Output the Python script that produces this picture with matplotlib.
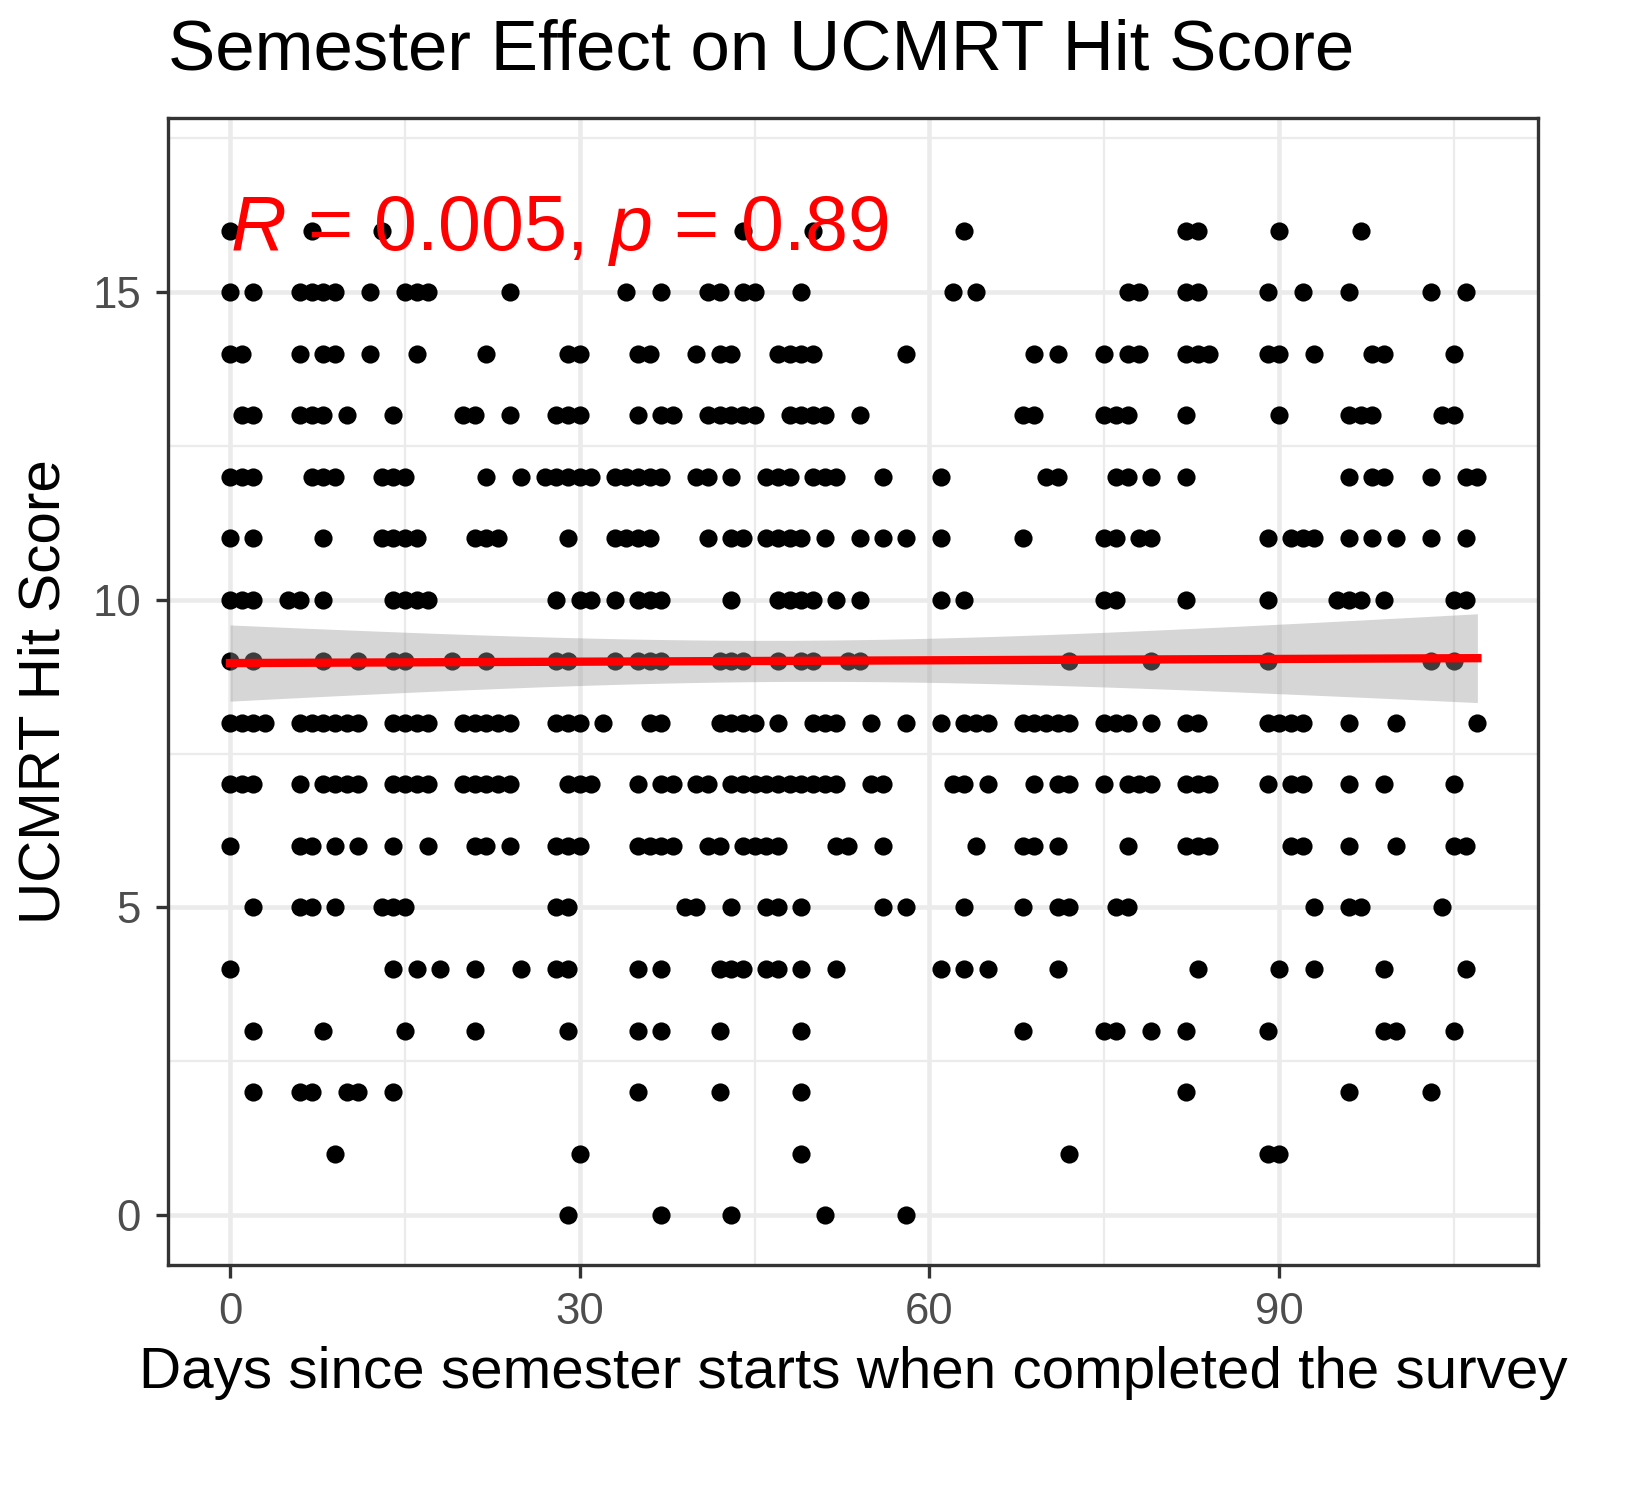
import numpy as np
import matplotlib
matplotlib.use("Agg")
import matplotlib.pyplot as plt

plt.rcParams['font.family'] = ['Liberation Sans', 'DejaVu Sans']
plt.rcParams['mathtext.fontset'] = 'custom'
plt.rcParams['mathtext.it'] = 'Liberation Sans:italic'
plt.rcParams['mathtext.rm'] = 'Liberation Sans'

d16 = [0, 7, 13, 44, 50, 63, 82, 83, 90, 97]
d15 = [0,2,6,7,8,9,12,15,16,17,24,34,37,41,42,44,45,49,62,64,77,78,82,83,89,92,96,103,106]
d14 = [0,1,6,8,9,12,16,22,29,30,35,36,40,42,43,47,48,49,50,58,69,71,75,77,78,82,83,84,89,90,93,98,99,105]
d13 = [1,2,6,7,8,10,14,20,21,24,28,29,30,35,37,38,41,42,43,44,45,48,49,50,51,54,68,69,75,76,77,82,90,96,97,98,104,105]
d12 = [0,1,2,7,8,9,13,14,15,22,25,27,28,29,30,31,33,34,35,36,37,40,41,43,46,47,48,50,51,52,56,61,70,71,76,77,79,82,96,98,99,103,106,107]
d11 = [0,2,8,13,14,15,16,21,22,23,29,33,34,35,36,41,43,44,46,47,48,49,51,54,56,58,61,68,75,76,78,79,89,91,92,93,96,98,100,103,106]
d10 = [0,1,2,5,6,8,14,15,16,17,28,30,31,33,35,36,37,43,47,48,49,50,52,54,61,63,75,76,82,89,95,96,97,99,105,106]
d9 = [0,2,8,11,14,15,19,22,28,29,33,35,36,37,42,43,44,47,49,50,53,54,72,79,89,103,105]
d8 = [0,1,2,3,6,7,8,9,10,11,14,15,16,17,20,21,22,23,24,28,29,30,32,36,37,42,43,44,45,47,50,51,52,55,58,61,63,64,65,68,69,70,71,72,75,76,77,79,82,83,89,90,91,92,96,100,107]
d7 = [0,1,2,6,8,9,10,11,14,15,16,17,20,21,22,23,24,29,30,31,35,37,38,40,41,43,44,45,46,47,48,49,50,51,52,55,56,62,63,65,69,71,72,75,77,78,79,82,83,84,89,91,92,96,99,105]
d6 = [0,6,7,9,11,14,17,21,22,24,28,29,30,35,36,37,38,41,42,44,45,46,47,52,53,56,64,68,69,71,77,82,83,84,91,92,96,100,105,106]
d5 = [2,6,7,9,13,14,15,28,29,39,40,43,46,47,49,56,58,63,68,71,72,76,77,93,96,97,104]
d4 = [0,14,16,18,21,25,28,29,35,37,42,43,44,46,47,49,52,61,63,65,71,83,90,93,99,106]
d3 = [2,8,15,21,29,35,37,42,49,68,75,76,79,82,89,99,100,105]
d2 = [2,6,7,10,11,14,35,42,49,82,96,103]
d1 = [9,30,49,72,89,90]
d0 = [29,37,43,51,58]

rows = {16: d16, 15: d15, 14: d14, 13: d13, 12: d12, 11: d11, 10: d10, 9: d9,
        8: d8, 7: d7, 6: d6, 5: d5, 4: d4, 3: d3, 2: d2, 1: d1, 0: d0}
x = np.array([d for s, ds in rows.items() for d in ds], dtype=float)
y = np.array([s for s, ds in rows.items() for d in ds], dtype=float)

fig = plt.figure(figsize=(5.5, 5), dpi=300)
ax = fig.add_axes([168/1650, 1-1265/1500, (1538-168)/1650, (1265-118)/1500])

ax.set_xlim(-5.32, 112.2)
ax.set_ylim(-0.81, 17.83)
ax.set_xticks([0, 30, 60, 90])
ax.set_yticks([0, 5, 10, 15])
ax.set_xticks([15, 45, 75, 105], minor=True)
ax.set_yticks([2.5, 7.5, 12.5, 17.5], minor=True)
ax.grid(which='major', color='#ebebeb', lw=1.1)
ax.grid(which='minor', color='#ebebeb', lw=0.55)
ax.set_axisbelow(True)
for sp in ax.spines.values():
    sp.set_color('#333333'); sp.set_linewidth(0.8)
ax.tick_params(which='major', color='#333333', labelcolor='#4d4d4d', labelsize=10.5, length=3)
ax.tick_params(which='minor', length=0)

ax.scatter(x, y, s=19, color='black', lw=0, zorder=2)

n = len(x)
b, a = np.polyfit(x, y, 1)
xs = np.linspace(x.min(), x.max(), 100)
yhat = a + b*xs
resid = y - (a + b*x)
se = np.sqrt(np.sum(resid**2)/(n-2))
sxx = np.sum((x-x.mean())**2)
ci = 1.97*se*np.sqrt(1/n + (xs-x.mean())**2/sxx)
ax.fill_between(xs, yhat-ci, yhat+ci, color='#999999', alpha=0.4, lw=0, zorder=3)
ax.plot(xs, yhat, color='red', lw=2, zorder=4)

ax.text(0, 16, r'$R$ = 0.005, $p$ = 0.89', color='red', fontsize=18.5,
        ha='left', va='center', zorder=5)

ax.set_xlabel('Days since semester starts when completed the survey', fontsize=14, labelpad=3)
ax.set_ylabel('UCMRT Hit Score', fontsize=14, labelpad=5)
fig.text(168/1650, 1-52/1500, 'Semester Effect on UCMRT Hit Score', fontsize=17, ha='left', va='center')

fig.savefig('out.png', dpi=300)
